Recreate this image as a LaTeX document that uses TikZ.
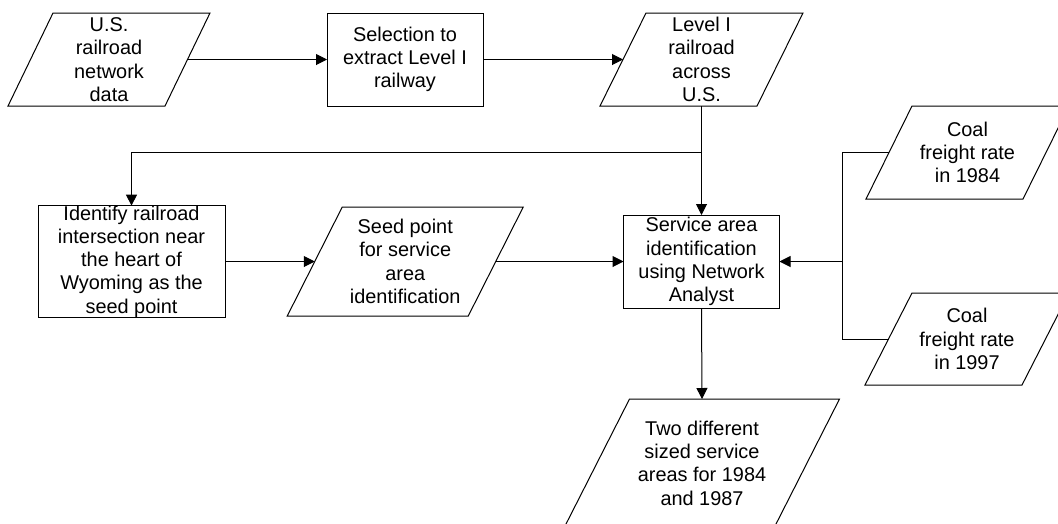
\documentclass[tikz,border=0pt]{standalone}
\usepackage{fontspec}
\setmainfont{Liberation Sans}
\usetikzlibrary{arrows.meta,calc}
\tikzset{
  lw/.style={line width=1pt, draw=black},
  txt/.style={inner sep=0pt, outer sep=0pt, align=center, font=\fontsize{19.9}{23.3}\selectfont, text=black},
  procbox/.style={txt, draw=black, line width=1pt, rectangle},
  databox/.style={txt, rectangle},
  arr/.style={lw, -{Triangle[length=11pt,width=11pt]}},
  conn/.style={lw},
}
\newcommand\parashape[2]{\draw[lw] ([xshift=#2]#1.north west) -- ([xshift=#2]#1.north east) -- ([xshift=-#2]#1.south east) -- ([xshift=-#2]#1.south west) -- cycle;}
\begin{document}
\begin{tikzpicture}[x=1pt,y=-1pt]
\useasboundingbox (0,0) rectangle (1058,523);
\fill[white] (0,0) rectangle (1058,523);
% nodes
\node[databox, minimum width=157pt, minimum height=93pt] (p1) at (109,59.5) {U.S.\\railroad\\network\\data};
\node[procbox, minimum width=156pt, minimum height=93pt] (b2) at (405,59.5) {Selection to\\extract Level I\\railway};
\node[databox, minimum width=157pt, minimum height=93pt] (p3) at (701.5,59.5) {Level I\\railroad\\across\\U.S.};
\node[procbox, minimum width=187pt, minimum height=111pt] (b4) at (131.5,261.5) {Identify railroad\\intersection near\\the heart of\\Wyoming as the\\seed point};
\node[databox, minimum width=181pt, minimum height=109pt] (p5) at (405.25,261.5) {Seed point\\for service\\area\\identification};
\node[procbox, minimum width=156pt, minimum height=93pt] (b6) at (701.5,261.5) {Service area\\identification\\using Network\\Analyst};
\node[databox, minimum width=157pt, minimum height=93pt] (p7) at (967.5,152.5) {Coal\\freight rate\\in 1984};
\node[databox, minimum width=157pt, minimum height=92pt] (p8) at (967,339) {Coal\\freight rate\\in 1997};
\node[databox, minimum width=210pt, minimum height=128pt] (p9) at (702,463) {Two different\\sized service\\areas for 1984\\and 1987};
% parallelogram outlines
\parashape{p1}{22.5pt}
\parashape{p3}{23pt}
\parashape{p5}{27.5pt}
\parashape{p7}{23pt}
\parashape{p8}{23.5pt}
\parashape{p9}{32.5pt}
% junction coordinates
\coordinate (split) at (701.5,152.5);
\coordinate (merge) at (842,261.5);
% connectors
\draw[arr] (p1.east) -- (b2.west);
\draw[arr] (b2.east) -- (p3.west);
\draw[arr] (p3.south) -- (b6.north);
\draw[arr] (split) -| (b4.north);
\draw[arr] (b4.east) -- (p5.west);
\draw[arr] (p5.east) -- (b6.west);
\draw[conn] (p7.west) -| (merge);
\draw[conn] (p8.west) -| (merge);
\draw[arr] (merge) -- (b6.east);
\draw[arr] (b6.south) -- (p9.north);
\end{tikzpicture}
\end{document}
